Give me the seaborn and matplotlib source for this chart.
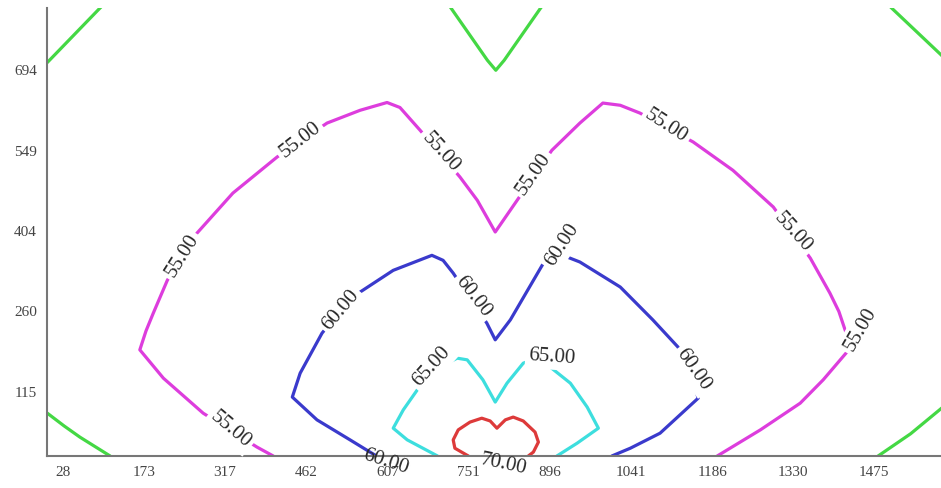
"""
Contour map of levels 50-70 (two-lobe field), redrawn from traced iso-lines.
"""
import matplotlib
matplotlib.use("Agg")
import matplotlib.pyplot as plt
import seaborn as sns

# ---- data: traced iso-lines (x, y in plot units) ----
# level 50 (four corner pieces + top V)
c50_tl_x = [0, 94, 110]
c50_tl_y = [708, 806, 822]
c50_bl_x = [0, 30, 58, 112]
c50_bl_y = [77, 54, 34, 0]
c50_top_x = [705, 720, 785, 800, 815, 880, 895]
c50_top_y = [826, 806, 712, 694, 712, 806, 826]
c50_tr_x = [1490, 1506, 1594, 1640]
c50_tr_y = [822, 806, 722, 676]
c50_br_x = [1482, 1540, 1600, 1640]
c50_br_y = [0, 40, 90, 122]

# level 55
c55_x = [403, 374, 278, 207, 165, 176, 189, 214, 240, 267, 331, 410, 499, 558,
         606, 629, 665, 736, 767, 799, 838, 900, 950, 991, 1022, 1057, 1152,
         1223, 1295, 1361, 1396, 1412, 1423, 1434, 1384, 1343, 1272, 1195]
c55_y = [0, 16, 77, 140, 191, 225, 257, 316, 360, 401, 473, 538, 599, 622,
         636, 627, 586, 502, 460, 403, 460, 550, 599, 635, 631, 617, 565,
         514, 448, 356, 293, 260, 227, 196, 137, 95, 47, 0]

# level 60
c60_x = [587, 540, 481, 437, 451, 490, 523, 558, 617, 686, 706, 724, 784, 799,
         826, 885, 912, 950, 1022, 1080, 1125, 1147, 1161, 1093, 1040, 1007]
c60_y = [0, 29, 65, 106, 149, 221, 262, 295, 334, 361, 352, 329, 239, 209,
         245, 347, 364, 349, 304, 245, 196, 150, 104, 41, 14, 0]

# level 65
c65_x = [696, 642, 617, 635, 660, 700, 731, 749, 777, 799, 820, 849, 874, 897,
         933, 963, 983, 945, 909]
c65_y = [0, 29, 50, 83, 119, 160, 176, 173, 137, 97, 131, 167, 176, 160,
         131, 88, 50, 23, 0]

# level 70
c70_x = [751, 727, 724, 733, 754, 775, 790, 802, 817, 831, 849, 870, 876, 867, 858]
c70_y = [0, 14, 29, 47, 61, 68, 63, 50, 65, 70, 63, 43, 25, 7, 0]

xtick_vals = [28, 173, 317, 462, 607, 751, 896, 1041, 1186, 1330, 1475, 1620]
ytick_vals = [115, 260, 404, 549, 694]

# ---- styling / layout ----
sns.set_style("white")
plt.rcParams["font.family"] = ["Liberation Serif", "DejaVu Serif"]

colors = {50: "#44d844", 55: "#dd3ddd", 60: "#3a3acc", 65: "#3ddede", 70: "#dd3a3a"}

fig = plt.figure(figsize=(9.41, 4.88), dpi=100)
ax = fig.add_axes([0.0503, 0.0656, 0.977, 0.918])

lines = [
    (50, c50_tl_x, c50_tl_y), (50, c50_bl_x, c50_bl_y), (50, c50_top_x, c50_top_y),
    (50, c50_tr_x, c50_tr_y), (50, c50_br_x, c50_br_y),
    (55, c55_x, c55_y), (60, c60_x, c60_y), (65, c65_x, c65_y), (70, c70_x, c70_y),
]
for lvl, xs, ys in lines:
    sns.lineplot(x=xs, y=ys, sort=False, estimator=None, color=colors[lvl],
                 lw=2.3, solid_joinstyle="round", solid_capstyle="round", ax=ax)

# inline labels: (level, x, y, rotation, on_axis)
labels = [
    (55, 326, 47, -40, False), (55, 240, 360, 58, False), (55, 451, 568, 38, False),
    (55, 701, 547, -48, False), (55, 867, 507, 55, False), (55, 1104, 593, -33, False),
    (55, 1330, 403, -48, False), (55, 1450, 227, 60, False),
    (60, 523, 263, 50, False), (60, 760, 286, -52, False), (60, 918, 379, 57, False),
    (60, 1152, 155, -55, False), (60, 603, -11, -18, True),
    (65, 686, 160, 48, False), (65, 900, 178, -4, False),
    (70, 813, -16, -12, True),
]
for lvl, x, y, rot, on_axis in labels:
    kw = {} if on_axis else dict(bbox=dict(boxstyle="square,pad=0.15", fc="white", ec="none"))
    ax.text(x, y, f"{lvl:.2f}", rotation=rot, ha="center", va="center",
            fontsize=15, color="#2a2a2a", zorder=4, **kw)

ax.set_xlim(0, 1640)
ax.set_ylim(0, 806)
ax.set_xticks(xtick_vals)
ax.set_xticklabels([str(v) for v in xtick_vals])
ax.set_yticks(ytick_vals)
ax.set_yticklabels([str(v) for v in ytick_vals])
ax.tick_params(axis="both", labelsize=11, colors="#555555", length=4, width=1,
               direction="out", labelcolor="#444444")
ax.tick_params(axis="x", pad=3)
for side in ["top", "right"]:
    ax.spines[side].set_visible(False)
for side in ["left", "bottom"]:
    ax.spines[side].set_color("#777777")
    ax.spines[side].set_linewidth(1.5)

fig.savefig("out.png", dpi=100)
print("saved out.png")
